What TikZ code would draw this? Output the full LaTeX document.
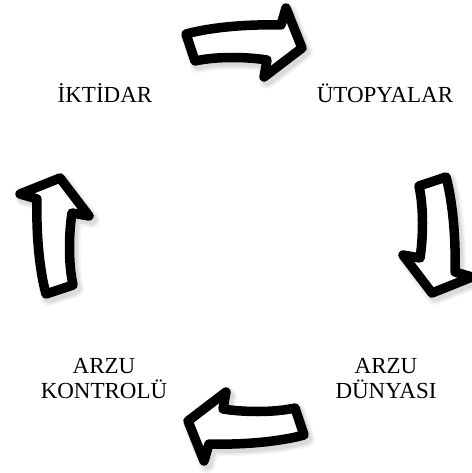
\documentclass[tikz,border=0pt]{standalone}
\usepackage{fontspec}
\setmainfont{Liberation Serif}
\usetikzlibrary{positioning}

% outline of one curved block arrow, pointing right, centred on its origin
\newcommand{\arrowoutline}{(-57,-8) .. controls (-35,-14) and (0,-18) .. (38,-17) -- (43,-34) -- (59,6) -- (21,35) -- (24,18) .. controls (5,15) and (-25,14) .. (-48,19) -- cycle}

\begin{document}
\begin{tikzpicture}[
        x=1pt, y=-1pt,
        stage/.style={font=\fontsize{23}{25}\selectfont, align=center, anchor=base, inner sep=0pt},
        arrowline/.style={line width=9.5pt, line join=round, draw=black, fill=white},
        arrowshadow/.pic={
            \foreach \w/\c in {16pt/4, 13pt/8, 10pt/14}{
                \filldraw[line width=\w, line join=round, draw=black!\c, fill=black!\c] \arrowoutline;
            }
        },
        cyclearrow/.pic={
            \draw[arrowline] \arrowoutline;
        }
    ]
        \useasboundingbox (0,0) rectangle (471,473);

        % stages of the cycle
        \node[stage] (iktidar) at (105,103) {İKTİDAR};
        \node[stage] (utopya) at (385,103) {ÜTOPYALAR};
        \node[stage] (dunya) at (386,398) {ARZU\\DÜNYASI};
        \node[stage] (kontrol) at (104,398) {ARZU\\KONTROLÜ};

        % shadows
        \pic[rotate=0] at (246,46) {arrowshadow};
        \pic[rotate=-90] at (441,238) {arrowshadow};
        \pic[rotate=180] at (250,431) {arrowshadow};
        \pic[rotate=90] at (57,241) {arrowshadow};

        % arrows
        \pic[rotate=0] (toputopya) at (243,42) {cyclearrow};
        \pic[rotate=-90] (todunya) at (438,234) {cyclearrow};
        \pic[rotate=180] (tokontrol) at (247,427) {cyclearrow};
        \pic[rotate=90] (toiktidar) at (54,237) {cyclearrow};

    \end{tikzpicture}
\end{document}
